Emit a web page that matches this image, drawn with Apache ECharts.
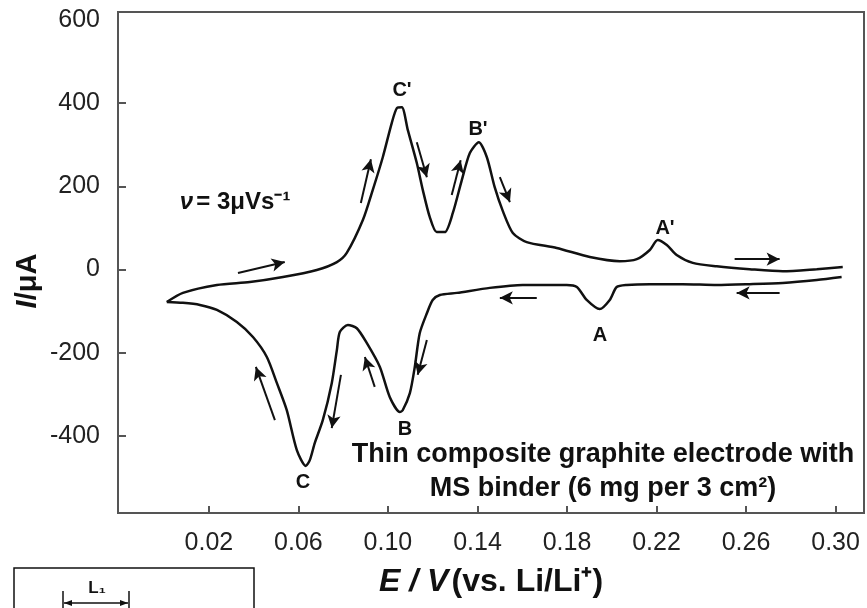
<!DOCTYPE html>
<html>
<head>
<meta charset="utf-8">
<script src="https://cdn.jsdelivr.net/npm/echarts@6/dist/echarts.min.js"></script>
<style>
  html, body { margin: 0; padding: 0; background: #fff; }
  #chart { width: 867px; height: 608px; }
</style>
</head>
<body>
<div id="chart"></div>
<script>
// anodic sweep (upper branch), left -> right
const potentialAnodic = [0.0012, 0.0084, 0.0236, 0.0383, 0.0531, 0.0682, 0.0772, 0.0816, 0.0888, 0.0932,
  0.0977, 0.1017, 0.1040, 0.1062, 0.1089, 0.1129, 0.1156, 0.1187, 0.1218, 0.1254, 0.1290, 0.1330,
  0.1366, 0.1406, 0.1442, 0.1477, 0.1513, 0.1558, 0.1620, 0.1754, 0.1902, 0.2036, 0.2112, 0.2170,
  0.2205, 0.2246, 0.2290, 0.2362, 0.2469, 0.2616, 0.2764, 0.2916, 0.3032];
const currentAnodic = [-78, -56, -37, -30, -18, -1, 18, 40, 119, 191,
  270, 352, 388, 390, 335, 256, 191, 126, 90, 90, 136, 215,
  280, 306, 270, 198, 141, 88, 66, 52, 30, 20, 25, 47,
  71, 59, 35, 16, 8, 1, -4, 1, 6];

// cathodic sweep (lower branch), right -> left
const potentialCathodic = [0.3027, 0.2916, 0.2764, 0.2616, 0.2469, 0.2317, 0.2170, 0.2067, 0.2022, 0.1991,
  0.1946, 0.1888, 0.1844, 0.1799, 0.1602, 0.1455, 0.1308, 0.1232, 0.1200, 0.1174, 0.1142, 0.1120,
  0.1098, 0.1066, 0.1053, 0.1008, 0.0964, 0.0906, 0.0861, 0.0821, 0.0785, 0.0772, 0.0749, 0.0709,
  0.0673, 0.0651, 0.0633, 0.0593, 0.0548, 0.0504, 0.0459, 0.0397, 0.0325, 0.0236, 0.0160, 0.0084, 0.0012];
const currentCathodic = [-18, -25, -32, -35, -37, -35, -35, -37, -42, -73,
  -95, -73, -42, -37, -37, -44, -56, -61, -73, -105, -153, -234,
  -297, -338, -342, -306, -234, -177, -141, -133, -150, -193, -273, -362,
  -417, -458, -472, -434, -338, -273, -210, -162, -126, -97, -85, -80, -78];

// sweep direction arrows: [fromE, fromI, toE, toI]
const sweepArrows = [
  [0.0330, -8, 0.0539, 18],
  [0.0879, 160, 0.0924, 265],
  [0.1129, 306, 0.1174, 222],
  [0.1285, 179, 0.1325, 263],
  [0.1500, 222, 0.1545, 162],
  [0.2549, 25, 0.2750, 25],
  [0.2750, -56, 0.2558, -56],
  [0.1665, -68, 0.1500, -68],
  [0.0495, -362, 0.0410, -234],
  [0.0790, -253, 0.0749, -381],
  [0.0941, -282, 0.0897, -210],
  [0.1174, -169, 0.1133, -253]
];

const xTicks = [0.02, 0.06, 0.10, 0.14, 0.18, 0.22, 0.26, 0.30];
const yTicks = [-400, -200, 0, 200, 400];
const yLabels = [-400, -200, 0, 200, 400, 600];

const FONT = '"Liberation Sans", Arial, Helvetica, sans-serif';
const chart = echarts.init(document.getElementById('chart'));

function zip(xs, ys) {
  return xs.map((x, i) => [x, ys[i]]);
}

// peak labels etc. (pixel placed)
function label(text, x, y, size) {
  return {
    type: 'text', x: x, y: y, silent: true,
    style: {
      text: text, fontFamily: FONT, fontWeight: 'bold', fontSize: size || 20,
      fill: '#111', align: 'center', verticalAlign: 'middle'
    }
  };
}

const option = {
  animation: false,
  backgroundColor: '#fff',
  textStyle: { fontFamily: FONT },
  grid: {
    left: 118, right: 3, top: 12, bottom: 95,
    show: true, borderColor: '#555', borderWidth: 2, backgroundColor: 'transparent'
  },
  xAxis: {
    type: 'value', min: -0.0206, max: 0.3127,
    axisLine: { show: true, onZero: false, lineStyle: { color: '#555', width: 2 } },
    axisTick: { show: true, inside: true, length: 7, customValues: xTicks, lineStyle: { color: '#555', width: 2 } },
    axisLabel: { customValues: xTicks, formatter: v => v.toFixed(2), fontSize: 25, color: '#222', margin: 18, fontFamily: FONT },
    splitLine: { show: false },
    name: '{it|E / V} {rg|(vs. Li/Li⁺)}',
    nameLocation: 'middle', nameGap: 53,
    nameTextStyle: {
      rich: {
        it: { fontStyle: 'italic', fontWeight: 'bold', fontSize: 32, fontFamily: FONT, color: '#111' },
        rg: { fontWeight: 'bold', fontSize: 32, fontFamily: FONT, color: '#111' }
      }
    }
  },
  yAxis: {
    type: 'value', min: -585, max: 619,
    axisLine: { show: true, onZero: false, lineStyle: { color: '#555', width: 2 } },
    axisTick: { show: true, inside: true, length: 8, customValues: yTicks, lineStyle: { color: '#555', width: 2 } },
    axisLabel: { customValues: yLabels, fontSize: 25, color: '#222', margin: 18, fontFamily: FONT, padding: [14, 0, 0, 0] },
    splitLine: { show: false }
  },
  series: [
    {
      name: 'anodic', type: 'line', data: zip(potentialAnodic, currentAnodic),
      showSymbol: false, smooth: 0.25,
      lineStyle: { color: '#111', width: 2.5 },
      markLine: {
        silent: true, symbol: ['none', 'arrow'], symbolSize: [10, 13],
        label: { show: false },
        lineStyle: { color: '#111', width: 2, type: 'solid' },
        data: sweepArrows.map(a => [{ coord: [a[0], a[1]] }, { coord: [a[2], a[3]] }])
      }
    },
    {
      name: 'cathodic', type: 'line', data: zip(potentialCathodic, currentCathodic),
      showSymbol: false, smooth: 0.25,
      lineStyle: { color: '#111', width: 2.5 }
    }
  ],
  graphic: [
    {
      type: 'text', x: 28, y: 281, rotation: Math.PI / 2, silent: true,
      style: {
        text: '{i|I}{n|/μA}', align: 'center', verticalAlign: 'middle',
        rich: {
          i: { fontStyle: 'italic', fontWeight: 'bold', fontSize: 29, fontFamily: FONT, fill: '#111' },
          n: { fontWeight: 'bold', fontSize: 29, fontFamily: FONT, fill: '#111' }
        }
      }
    },
    {
      type: 'text', x: 235, y: 202, silent: true,
      style: {
        text: '{nu|ν} {b|= 3μVs⁻¹}', align: 'center', verticalAlign: 'middle',
        rich: {
          nu: { fontStyle: 'italic', fontWeight: 'bold', fontSize: 24, fontFamily: FONT, fill: '#111' },
          b: { fontWeight: 'bold', fontSize: 24, fontFamily: FONT, fill: '#111' }
        }
      }
    },
    label("C'", 402, 90),
    label("B'", 478, 129),
    label("A'", 665, 228),
    label('A', 600, 335),
    label('B', 405, 429),
    label('C', 303, 482),
    label('Thin composite graphite electrode with', 603, 455, 27),
    label('MS binder (6 mg per 3 cm²)', 603, 489, 27),
    // start of the next figure's inset, cut by the page edge
    {
      type: 'rect', silent: true,
      shape: { x: 14, y: 568, width: 240, height: 60 },
      style: { fill: 'none', stroke: '#111', lineWidth: 1.5 }
    },
    label('L₁', 97, 588, 17),
    { type: 'line', silent: true, shape: { x1: 64, y1: 603, x2: 128, y2: 603 }, style: { stroke: '#111', lineWidth: 1.5 } },
    { type: 'line', silent: true, shape: { x1: 63, y1: 591, x2: 63, y2: 608 }, style: { stroke: '#111', lineWidth: 1.5 } },
    { type: 'line', silent: true, shape: { x1: 129, y1: 591, x2: 129, y2: 608 }, style: { stroke: '#111', lineWidth: 1.5 } },
    { type: 'polygon', silent: true, shape: { points: [[64, 603], [72, 600], [72, 606]] }, style: { fill: '#111' } },
    { type: 'polygon', silent: true, shape: { points: [[128, 603], [120, 600], [120, 606]] }, style: { fill: '#111' } }
  ]
};

chart.setOption(option);
</script>
</body>
</html>
